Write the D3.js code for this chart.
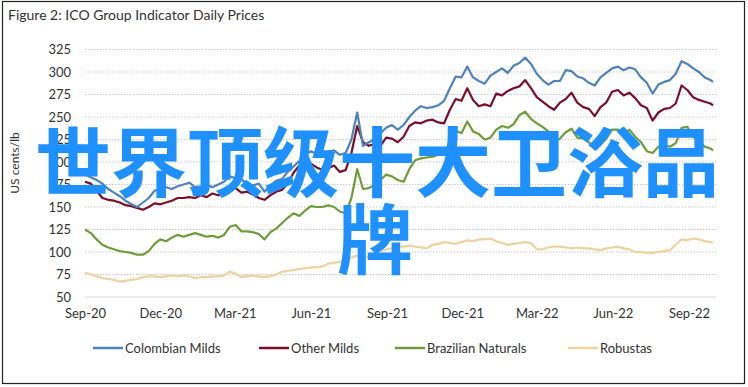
<!DOCTYPE html>
<html>
<head>
<meta charset="utf-8">
<script src="https://cdn.jsdelivr.net/npm/d3@7"></script>
<style>
  body { margin: 0; background: #fff; }
  text { font-family: "Liberation Sans Narrow", Lato, sans-serif; fill: #333; }
</style>
</head>
<body>
<svg id="chart" width="748" height="387"></svg>
<script>
/* weekly observations, first one on 1 Sep 2020, last on 30 Sep 2022 */
var startDay = "2020-09-01";
var endDay = "2022-09-30";

var colombianMilds = [186, 183, 180, 176, 170, 166, 162, 157, 153, 150, 155, 160, 168, 170, 172, 170, 173, 175, 177, 172,
  173, 175, 172, 175, 178, 184, 182, 181, 175, 174, 176, 167, 174, 179, 181, 189, 195, 201, 208, 212,
  209, 208, 211, 213, 208, 210, 225, 255, 218, 222, 225, 232, 238, 241, 236, 241, 250, 257, 262, 260,
  261, 263, 268, 282, 295, 294, 306, 294, 290, 287, 296, 300, 304, 299, 307, 310, 316, 309, 298, 291,
  286, 290, 290, 302, 301, 295, 293, 288, 285, 294, 299, 304, 306, 302, 305, 303, 294, 288, 276, 286,
  289, 291, 298, 312, 309, 304, 300, 294, 291, 289];

var otherMilds = [178, 176, 168, 160, 158, 157, 155, 152, 151, 149, 147, 150, 154, 153, 155, 157, 160, 160, 161, 160,
  163, 161, 165, 163, 166, 171, 171, 166, 167, 164, 160, 158, 163, 167, 169, 176, 188, 196, 195, 198,
  194, 191, 193, 196, 189, 191, 210, 240, 222, 218, 220, 218, 227, 226, 222, 228, 240, 244, 243, 246,
  247, 244, 243, 258, 270, 268, 282, 269, 262, 264, 262, 276, 274, 279, 282, 284, 291, 282, 272, 267,
  262, 258, 266, 270, 277, 266, 261, 259, 251, 261, 266, 278, 280, 274, 277, 271, 263, 260, 246, 255,
  259, 260, 265, 285, 280, 272, 269, 267, 265, 263];

var brazilianNaturals = [125, 121, 114, 108, 105, 103, 101, 100, 99, 97, 97, 101, 109, 114, 112, 116, 119, 117, 119, 121,
  119, 117, 118, 116, 119, 128, 130, 123, 123, 122, 120, 114, 122, 126, 132, 138, 143, 140, 146, 151,
  150, 150, 152, 150, 145, 143, 160, 192, 170, 171, 174, 180, 186, 184, 180, 178, 192, 202, 204, 205,
  206, 208, 210, 222, 235, 232, 245, 234, 231, 225, 227, 236, 240, 238, 242, 252, 256, 248, 243, 239,
  234, 222, 226, 233, 237, 227, 226, 222, 214, 219, 226, 236, 236, 230, 236, 228, 222, 212, 210, 217,
  219, 217, 221, 238, 239, 228, 224, 217, 215, 213];

var robustas = [77, 75, 73, 71, 70, 69, 67, 68, 69, 70, 72, 73, 73, 72, 73, 74, 73, 74, 73, 71,
  72, 72, 73, 73, 74, 78, 76, 72, 73, 74, 73, 72, 73, 75, 78, 79, 80, 81, 82, 83,
  83, 84, 87, 88, 89, 91, 94, 96, 94, 95, 96, 101, 103, 104, 106, 106, 107, 106, 105, 104,
  108, 109, 111, 110, 109, 111, 113, 112, 114, 114, 115, 112, 110, 108, 109, 110, 111, 110, 103, 103,
  105, 106, 106, 105, 104, 105, 104, 104, 103, 102, 104, 105, 106, 104, 103, 100, 100, 99, 99, 100,
  101, 102, 108, 114, 113, 115, 114, 112, 111, 110];

var seriesNames = ["Colombian Milds", "Other Milds", "Brazilian Naturals", "Robustas"];
var seriesColors = ["#4f81bd", "#7a0f27", "#6f9c3b", "#ecd39f"];
var yTicks = [50, 75, 100, 125, 150, 175, 200, 225, 250, 275, 300, 325];
var xTickLabels = ["Sep-20", "Dec-20", "Mar-21", "Jun-21", "Sep-21", "Dec-21", "Mar-22", "Jun-22", "Sep-22"];

var titleText = "Figure 2: ICO Group Indicator Daily Prices";
var yTitle = "US cents/lb";
var overlayLines = ["世界顶级十大卫浴品", "牌"];

var parse = d3.utcParse("%Y-%m-%d");
var dates = d3.utcDay.range(parse(startDay), parse(endDay), 7);
dates.push(parse(endDay));
var tickParse = d3.utcParse("%b-%y");
var xTickDates = xTickLabels.map(function (s) { return tickParse(s); });

var allSeries = [colombianMilds, otherMilds, brazilianNaturals, robustas];

var svg = d3.select("#chart");

// outer frame
svg.append("rect")
    .attr("x", 2.5).attr("y", 1.5)
    .attr("width", 742).attr("height", 382)
    .attr("fill", "none")
    .attr("stroke", "#222")
    .attr("stroke-width", 1.2);

svg.append("text")
    .attr("x", 8).attr("y", 20)
    .style("font-size", "14px")
    .text(titleText);

var x = d3.scaleUtc()
    .domain([parse(startDay), parse(endDay)])
    .range([85, 713]);

var y = d3.scaleLinear()
    .domain([50, 325])
    .range([297, 49.5]);

// dotted gridlines
svg.append("g")
    .selectAll("line")
    .data(yTicks.filter(function (d) { return d > 50; }))
    .enter()
    .append("line")
    .attr("x1", 85).attr("x2", 716)
    .attr("y1", function (d) { return y(d); })
    .attr("y2", function (d) { return y(d); })
    .attr("stroke", "#c4c4c4")
    .attr("stroke-width", 1.2)
    .attr("stroke-dasharray", "1.3,1.7");

// base line at 50
svg.append("line")
    .attr("x1", 85).attr("x2", 716)
    .attr("y1", y(50)).attr("y2", y(50))
    .attr("stroke", "#d6d6d6")
    .attr("stroke-width", 1.2);

var yAxis = d3.axisLeft(y).tickValues(yTicks).tickSize(0).tickPadding(0);
var gy = svg.append("g")
    .attr("transform", "translate(71,0)")
    .call(yAxis);
gy.select(".domain").remove();
gy.selectAll("text").style("font-size", "13px").style("fill", "#333");

var xAxis = d3.axisBottom(x)
    .tickValues(xTickDates)
    .tickFormat(d3.utcFormat("%b-%y"))
    .tickSize(0)
    .tickPadding(0);
var gx = svg.append("g")
    .attr("transform", "translate(0,309)")
    .call(xAxis);
gx.select(".domain").remove();
gx.selectAll("text").style("font-size", "13px").style("fill", "#333");

svg.append("text")
    .attr("transform", "translate(19,163) rotate(-90)")
    .attr("text-anchor", "middle")
    .style("font-size", "12px")
    .text(yTitle);

var line = d3.line()
    .x(function (d, i) { return x(dates[i]); })
    .y(function (d) { return y(d); });

// draw back to front: robustas, brazilian, other, colombian
[3, 2, 1, 0].forEach(function (k) {
    svg.append("path")
        .datum(allSeries[k])
        .attr("fill", "none")
        .attr("stroke", seriesColors[k])
        .attr("stroke-width", 2.2)
        .attr("stroke-linejoin", "round")
        .attr("d", line);
});

// legend
var legendX = [93, 259, 395, 568];
var legend = svg.append("g");
seriesNames.forEach(function (name, k) {
    legend.append("line")
        .attr("x1", legendX[k]).attr("x2", legendX[k] + 30)
        .attr("y1", 348).attr("y2", 348)
        .attr("stroke", seriesColors[k])
        .attr("stroke-width", 2.5);
    legend.append("text")
        .attr("x", legendX[k] + 32)
        .attr("y", 352.5)
        .style("font-size", "13px")
        .text(name);
});

// big blue overlay text
svg.append("text")
    .attr("x", 377).attr("y", 191)
    .attr("text-anchor", "middle")
    .style("font-family", "'Noto Sans CJK SC', sans-serif")
    .style("font-weight", "bold")
    .style("font-size", "76px")
    .style("fill", "#1e90ff")
    .text(overlayLines[0]);
svg.append("text")
    .attr("x", 375).attr("y", 268)
    .attr("text-anchor", "middle")
    .style("font-family", "'Noto Sans CJK SC', sans-serif")
    .style("font-weight", "bold")
    .style("font-size", "76px")
    .style("fill", "#1e90ff")
    .text(overlayLines[1]);
</script>
</body>
</html>
